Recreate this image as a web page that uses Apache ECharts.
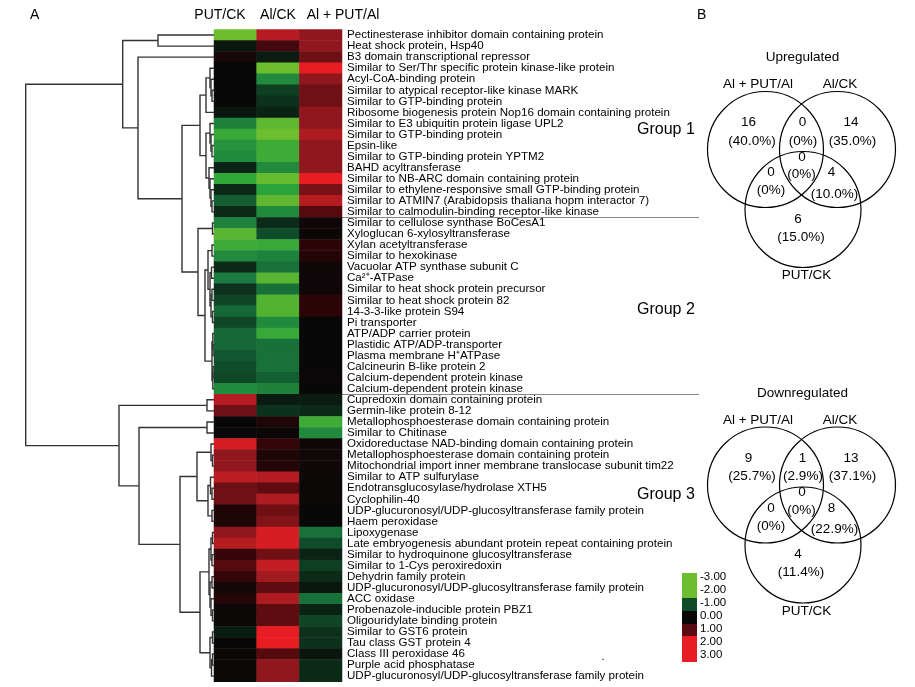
<!DOCTYPE html>
<html><head><meta charset="utf-8">
<script src="https://cdn.jsdelivr.net/npm/echarts@6/dist/echarts.min.js"></script>
<style>html,body{margin:0;padding:0;background:#fff}#c{width:915px;height:687px}</style>
</head><body><div id="c"></div>
<script>
// ---------------- DATA ----------------
const columns = ['PUT/CK', 'Al/CK', 'Al + PUT/Al'];
const proteins = [
  'Pectinesterase inhibitor domain containing protein',
  'Heat shock protein, Hsp40',
  'B3 domain transcriptional repressor',
  'Similar to Ser/Thr specific protein kinase-like protein',
  'Acyl-CoA-binding protein',
  'Similar to atypical receptor-like kinase MARK',
  'Similar to GTP-binding protein',
  'Ribosome biogenesis protein Nop16 domain containing protein',
  'Similar to E3 ubiquitin protein ligase UPL2',
  'Similar to GTP-binding protein',
  'Epsin-like',
  'Similar to GTP-binding protein YPTM2',
  'BAHD acyltransferase',
  'Similar to NB-ARC domain containing protein',
  'Similar to ethylene-responsive small GTP-binding protein',
  'Similar to ATMIN7 (Arabidopsis thaliana hopm interactor 7)',
  'Similar to calmodulin-binding receptor-like kinase',
  'Similar to cellulose synthase BoCesA1',
  'Xyloglucan 6-xylosyltransferase',
  'Xylan acetyltransferase',
  'Similar to hexokinase',
  'Vacuolar ATP synthase subunit C',
  'Ca\u00B2\u207A-ATPase',
  'Similar to heat shock protein precursor',
  'Similar to heat shock protein 82',
  '14-3-3-like protein S94',
  'Pi transporter',
  'ATP/ADP carrier protein',
  'Plastidic ATP/ADP-transporter',
  'Plasma membrane H\u207AATPase',
  'Calcineurin B-like protein 2',
  'Calcium-dependent protein kinase',
  'Calcium-dependent protein kinase',
  'Cupredoxin domain containing protein',
  'Germin-like protein 8-12',
  'Metallophosphoesterase domain containing protein',
  'Similar to Chitinase',
  'Oxidoreductase NAD-binding domain containing protein',
  'Metallophosphoesterase domain containing protein',
  'Mitochondrial import inner membrane translocase subunit tim22',
  'Similar to ATP sulfurylase',
  'Endotransglucosylase/hydrolase XTH5',
  'Cyclophilin-40',
  'UDP-glucuronosyl/UDP-glucosyltransferase family protein',
  'Haem peroxidase',
  'Lipoxygenase',
  'Late embryogenesis abundant protein repeat containing protein',
  'Similar to hydroquinone glucosyltransferase',
  'Similar to 1-Cys peroxiredoxin',
  'Dehydrin family protein',
  'UDP-glucuronosyl/UDP-glucosyltransferase family protein',
  'ACC oxidase',
  'Probenazole-inducible protein PBZ1',
  'Oligouridylate binding protein',
  'Similar to GST6 protein',
  'Tau class GST protein 4',
  'Class III peroxidase 46',
  'Purple acid phosphatase',
  'UDP-glucuronosyl/UDP-glucosyltransferase family protein'
];
const putCK = [
  -3, -0.2, 0.2, 0, 0, 0, 0, -0.2, -1.6, -2.2, -1.8, -1.7, -0.4, -2.1, -0.5, -1.2, -0.5,
  -1.6, -2.7, -2.3, -1.7, -0.5, -1.5, -0.6, -0.9, -1.3, -0.9, -1.3, -1.3, -1.1, -1.0, -0.9, -1.7,
  2.2, 1.3, 0, 0, 2.7, 1.7, 1.7, 2.3, 1.3, 1.3, 0.3, 0.3, 1.7, 2.2, 0.6, 1.0, 0.6, 0.15, 0.4,
  0.05, 0.05, -0.3, 0, 0.05, 0.05, 0.05
];
const alCK = [
  2.2, 0.8, -0.3, -3, -1.7, -0.8, -0.6, -0.4, -2.8, -3, -2.3, -2.3, -1.7, -2.9, -2.0, -2.8, -1.7,
  -0.5, -1.0, -2.2, -1.6, -1.4, -2.7, -1.4, -2.6, -2.6, -1.7, -2.2, -1.4, -1.4, -1.4, -1.2, -1.6,
  -0.3, -0.6, 0.3, 0.05, 0.6, 0.3, 0.4, 2.2, 1.1, 2.1, 1.3, 1.5, 2.7, 2.7, 1.3, 2.4, 1.9, 1.1, 2.1,
  1.1, 1.1, 3, 3, 1.0, 1.7, 1.7
];
const alPutAl = [
  1.7, 1.7, 1.3, 3, 1.7, 1.3, 1.3, 1.7, 1.7, 2.1, 1.7, 1.7, 1.7, 3, 1.4, 2.2, 1.0,
  0.1, 0.05, 0.5, 0.4, 0.1, 0.1, 0.1, 0.5, 0.5, 0, 0, 0, 0, 0, 0.05, 0,
  -0.3, -0.5, -2.3, -1.7, 0.1, 0.1, 0.1, 0.05, 0.05, 0.05, 0, 0, -1.4, -1.0, -0.4, -0.8, -0.5, -0.2, -1.4,
  -0.4, -0.9, -0.6, -0.6, -0.2, -0.5, -0.5
];
const groupNames = ['Group 1', 'Group 2', 'Group 3'];
const groupSizes = [17, 16, 26];
const legendTicks = ['-3.00', '-2.00', '-1.00', '0.00', '1.00', '2.00', '3.00'];
// dendrogram: [height, childA, childB]; leaves are row indices
const dendroTree = [188.3,
  [91.3,
    [56, 0, 1],
    [76, 2,
      [32,
        [14,
          [8, [4, 3, [3, 4, [2, 5, 6]]], 7],
          [8, [4, 8, [3, 9, [2, 10, 11]]], [5, 12, [4, 13, [3, 14, [2, 15, 16]]]]]
        ],
        [16,
          [1.5, 17, 18],
          [9,
            [6, [2, 19, 20], [4, [2.5, 21, 22], [3, [2, 23, 24], [1.5, 25, 26]]]],
            [2, [1.2, 27, [1, 28, 29]], [1.2, [1, 30, 31], 32]]
          ]
        ]
      ]
    ]
  ],
  [95,
    [7, 33, 34],
    [75,
      [7, 35, 36],
      [34,
        [17, [3, 37, [1.5, 38, 39]], [6, [3.5, 40, [2, 41, 42]], [2, 43, 44]]],
        [14,
          [5, [3, [1.5, 45, 46], [2, 47, 48]], [4, [2, 49, 50], [3, 51, [1.5, 52, 53]]]],
          [4, [1.5, 54, 55], [2.5, [1.5, 56, 57], 58]]
        ]
      ]
    ]
  ]
];
const vennSets = ['Al + PUT/Al', 'Al/CK', 'PUT/CK'];
// regions: [A only, A&B, B only, A&B&C, A&C, B&C, C only]
const upCounts = [16, 0, 14, 0, 0, 4, 6];
const downCounts = [9, 1, 13, 0, 0, 8, 4];
const vennTitles = ['Upregulated', 'Downregulated'];

// ---------------- LAYOUT ----------------
const FONT = '"Liberation Sans", Arial, Helvetica, sans-serif';
const HM = { left: 214, right: 342, top: 29.5, bottom: 681.7 };
const nRows = proteins.length;
const rowH = (HM.bottom - HM.top) / nRows;

const heatData = [];
const cols = [putCK, alCK, alPutAl];
for (let r = 0; r < nRows; r++) for (let c = 0; c < 3; c++) heatData.push([c, r, cols[c][r]]);

const dendroSegs = [];
function flatten(node) {
  if (typeof node === 'number') return { y: node + 0.5, h: 0 };
  const a = flatten(node[1]), b = flatten(node[2]);
  dendroSegs.push([a.y, b.y, node[0], a.h, b.h]);
  return { y: (a.y + b.y) / 2, h: node[0] };
}
flatten(dendroTree);

function txt(text, x, y, size, align, extra) {
  return Object.assign({
    type: 'text', x: x, y: y, silent: true,
    style: {
      text: text, fontSize: size, fontFamily: FONT, fill: '#000',
      textAlign: align || 'center', align: align || 'center',
      textVerticalAlign: 'middle', verticalAlign: 'middle'
    }
  }, extra || {});
}

const graphics = [];
graphics.push(txt('A', 30, 15, 14, 'left'));
graphics.push(txt('B', 697, 15, 14, 'left'));
const headerX = [220, 278, 343];
columns.forEach((c, i) => graphics.push(txt(c, headerX[i], 15, 14, 'center')));
// group separators
let acc = 0;
for (let g = 0; g < groupSizes.length - 1; g++) {
  acc += groupSizes[g];
  const y = Math.round(HM.top + acc * rowH) + 0.5;
  graphics.push({ type: 'line', silent: true, shape: { x1: HM.right, y1: y, x2: 699, y2: y }, style: { stroke: '#888', lineWidth: 1 } });
}
const groupY = [130, 310, 495];
groupNames.forEach((g, i) => graphics.push(txt(g, 637, groupY[i], 16, 'left')));
// colour key
const keyBlocks = [['#6cbe2e', 573, 598], ['#0f4a28', 598, 611], ['#080808', 611, 624], ['#5a0a10', 624, 636], ['#e81c23', 636, 662]];
keyBlocks.forEach(b => graphics.push({ type: 'rect', silent: true, shape: { x: 682, y: b[1], width: 15, height: b[2] - b[1] }, style: { fill: b[0] } }));
legendTicks.forEach((t, i) => graphics.push(txt(t, 700, 577 + i * 13, 11.5, 'left')));
graphics.push(txt('.', 603, 657, 11, 'center'));

// venn diagrams
function pct(v, tot) { return v === 0 ? '(0%)' : '(' + (v / tot * 100).toFixed(1) + '%)'; }
const circleRel = [[0, 0], [72, 0], [37.5, 60]];
const nameRel = [[-7.5, -65], [74.5, -65], [41, 126]];
const numRel = [[-17, -27], [37, -27], [85.5, -27], [36.5, 7.5], [5.5, 23], [66, 23], [32.5, 69.5]];
const pctRel = [[-13.5, -8.5], [37.5, -8.5], [87, -8.5], [36, 25], [5.5, 41], [69, 44.5], [35.5, 87.5]];
function venn(cx, cy, counts, title) {
  const tot = counts.reduce((a, b) => a + b, 0);
  graphics.push(txt(title, cx + 37, cy - 92, 13.5, 'center'));
  circleRel.forEach(p => graphics.push({ type: 'circle', silent: true, shape: { cx: cx + p[0], cy: cy + p[1], r: 58 }, style: { fill: 'none', stroke: '#000', lineWidth: 1.2 } }));
  vennSets.forEach((s, i) => graphics.push(txt(s, cx + nameRel[i][0], cy + nameRel[i][1], 13.5, 'center')));
  counts.forEach((v, i) => {
    graphics.push(txt(String(v), cx + numRel[i][0], cy + numRel[i][1], 13.5, 'center'));
    graphics.push(txt(pct(v, tot), cx + pctRel[i][0], cy + pctRel[i][1], 13.5, 'center'));
  });
}
venn(765.5, 149.5, upCounts, vennTitles[0]);
venn(765.5, 485, downCounts, vennTitles[1]);

// ---------------- CHART ----------------
const chart = echarts.init(document.getElementById('c'), null, { renderer: 'canvas' });
chart.setOption({
  animation: false,
  backgroundColor: '#fff',
  grid: [
    { left: HM.left, width: HM.right - HM.left, top: HM.top, height: HM.bottom - HM.top },
    { left: 25.7, width: HM.left - 25.7, top: HM.top, height: HM.bottom - HM.top }
  ],
  xAxis: [
    { type: 'category', gridIndex: 0, data: columns, show: false },
    { type: 'value', gridIndex: 1, min: 0, max: 188.3, inverse: true, show: false }
  ],
  yAxis: [
    {
      type: 'category', gridIndex: 0, data: proteins, inverse: true, position: 'right',
      axisLine: { show: false }, axisTick: { show: false }, splitLine: { show: false },
      axisLabel: { interval: 0, margin: 5, fontSize: 11.6, color: '#000', fontFamily: FONT }
    },
    { type: 'value', gridIndex: 1, min: 0, max: nRows, inverse: true, show: false }
  ],
  visualMap: {
    show: false, type: 'continuous', min: -3, max: 3, seriesIndex: 0, dimension: 2,
    inRange: { color: ['#6cbe2e', '#4cb034', '#2aa33a', '#1b7a3e', '#0f4d2a', '#0c2a18', '#080808',
      '#2c0508', '#560a0e', '#801419', '#a81c22', '#c81d23', '#e81c23'] }
  },
  series: [
    {
      type: 'heatmap', xAxisIndex: 0, yAxisIndex: 0, data: heatData,
      itemStyle: { borderWidth: 0 }, emphasis: { disabled: true }
    },
    {
      type: 'custom', xAxisIndex: 1, yAxisIndex: 1, data: dendroSegs,
      encode: { x: [2, 3, 4], y: [0, 1] }, silent: true,
      renderItem: function (params, api) {
        const yA = api.value(0), yB = api.value(1), h = api.value(2), hA = api.value(3), hB = api.value(4);
        return {
          type: 'polyline',
          shape: { points: [api.coord([hA, yA]), api.coord([h, yA]), api.coord([h, yB]), api.coord([hB, yB])] },
          style: { stroke: '#333', lineWidth: 1.4, fill: 'none' }
        };
      }
    }
  ],
  graphic: graphics
});
</script>
</body></html>
